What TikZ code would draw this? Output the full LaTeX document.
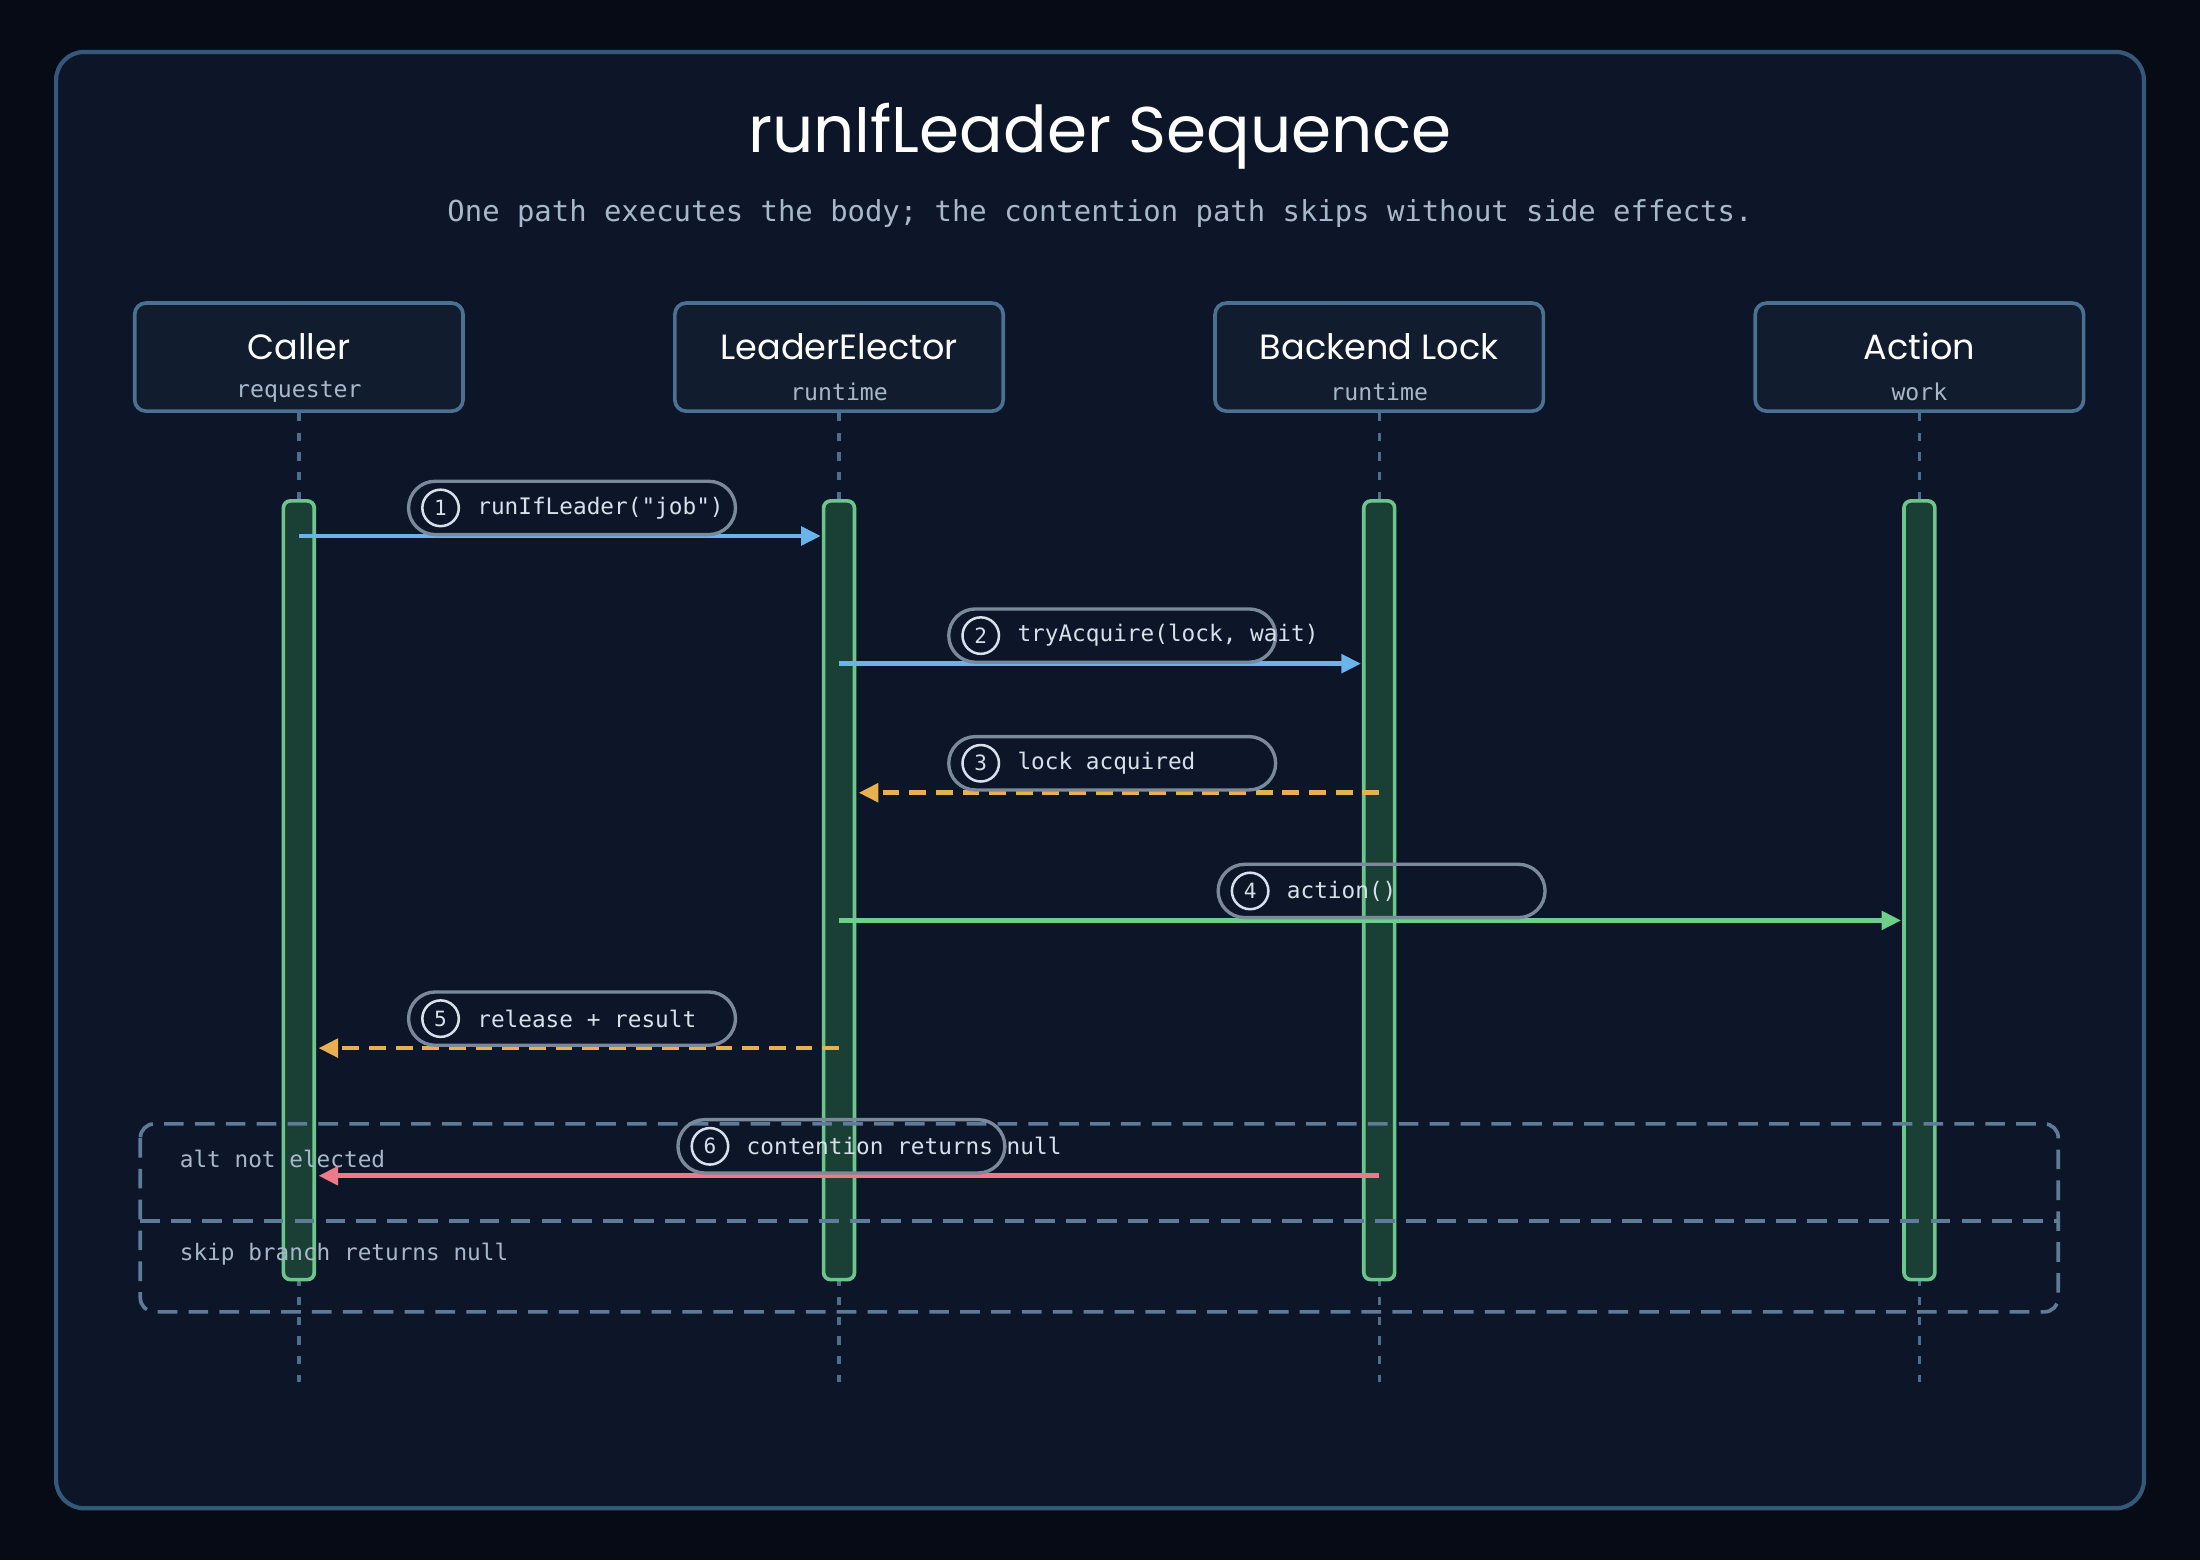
\documentclass[tikz,border=0pt]{standalone}
\usepackage{fontspec}
\setmainfont{Poppins}
\newfontfamily\monof{DejaVu Sans Mono}
\usetikzlibrary{arrows.meta}
\definecolor{bgc}{HTML}{070B16}
\definecolor{panel}{HTML}{0D1528}
\definecolor{panelline}{HTML}{34587A}
\definecolor{boxfill}{HTML}{111C2E}
\definecolor{boxline}{HTML}{4C7092}
\definecolor{lifec}{HTML}{4E6E8E}
\definecolor{barfill}{HTML}{1A3F35}
\definecolor{barline}{HTML}{6CC58A}
\definecolor{bluec}{HTML}{6AB4EC}
\definecolor{orc}{HTML}{E8B050}
\definecolor{grc}{HTML}{6CD08A}
\definecolor{redc}{HTML}{EC7A88}
\definecolor{pillline}{HTML}{7A8A9A}
\definecolor{txtc}{HTML}{D8E0EA}
\definecolor{subc}{HTML}{A8B8CC}
\definecolor{framec}{HTML}{5E7C98}
\tikzset{
 part/.style={draw=boxline,fill=boxfill,line width=2.6pt,rounded corners=8pt,minimum width=234pt,minimum height=77pt},
 life/.style={draw=lifec,line width=2.4pt,dash pattern=on 6pt off 8pt},
 actbar/.style={draw=barline,fill=barfill,line width=2.6pt,rounded corners=5pt},
 msg/.style={line width=3.4pt,-{Triangle[length=14pt,width=13pt]}},
 dmsg/.style={msg,dash pattern=on 12pt off 7pt},
 pill/.style={draw=pillline,line width=2.4pt,rounded corners=19pt,minimum width=233pt,minimum height=38pt},
 numc/.style={circle,draw=txtc,line width=1.8pt,minimum size=26pt,inner sep=0pt,text=txtc,font=\monof\fontsize{15}{15}\selectfont},
 mlab/.style={anchor=west,text=txtc,font=\monof\fontsize{16.2}{16}\selectfont,inner sep=0pt},
}
\begin{document}
\begin{tikzpicture}[x=1pt,y=-1pt]
\fill[bgc] (0,0) rectangle (1568,1112);
\useasboundingbox (0,0) rectangle (1568,1112);
\draw[panelline,fill=panel,line width=3pt,rounded corners=20pt] (40,37) rectangle (1528,1075);
\node[text=white,font=\fontsize{46}{46}\selectfont] (title) at (784,97) {runIfLeader Sequence};
\node[text=subc,font=\monof\fontsize{20.6}{20}\selectfont] (sub) at (784,152) {One path executes the body; the contention path skips without side effects.};
\foreach \n/\x/\a/\b in {c/213/Caller/requester, l/598/LeaderElector/runtime, k/983/Backend Lock/runtime, a/1368/Action/work}{
 \node[part] (p\n) at (\x,254.5) {};
 \node[text=white,font=\fontsize{25}{25}\selectfont] at (\x,247) {\a};
 \node[text=subc,font=\monof\fontsize{16.5}{16}\selectfont] at (\x,279) {\b};
 \coordinate (e\n) at (\x,985);
 \draw[life] (p\n.south) -- (e\n);
 \draw[actbar] (\x-11,357) rectangle (\x+11,912);
 \coordinate (b\n) at (\x,357);
}
% frame
\draw[framec,line width=2.6pt,dash pattern=on 14pt off 8pt,rounded corners=10pt] (100,801) rectangle (1467,935);
\draw[framec,line width=2.6pt,dash pattern=on 14pt off 8pt] (100,870) -- (1467,870);
\node[mlab,text=subc] (alt) at (128,826) {alt not elected};
\node[mlab,text=subc] (skip) at (128,894) {skip branch returns null};
% messages
\coordinate (m1a) at (213,382); \coordinate (m1b) at (585,382);
\coordinate (m2a) at (598,473); \coordinate (m2b) at (970,473);
\coordinate (m3a) at (983,565); \coordinate (m3b) at (612,565);
\coordinate (m4a) at (598,656); \coordinate (m4b) at (1355,656);
\coordinate (m5a) at (598,747); \coordinate (m5b) at (227,747);
\coordinate (m6a) at (983,838); \coordinate (m6b) at (227,838);
\draw[msg,bluec] (m1a) -- (m1b);
\draw[msg,bluec] (m2a) -- (m2b);
\draw[dmsg,orc] (m3a) -- (m3b);
\draw[msg,grc] (m4a) -- (m4b);
\draw[dmsg,orc] (m5a) -- (m5b);
\draw[msg,redc] (m6a) -- (m6b);
\foreach \i/\x/\y/\t in {1/290/362/runIfLeader("job"), 2/675/453/tryAcquire(lock{,} wait), 3/675/544/lock acquired, 4/867/635/action(), 5/290/726/release + result, 6/482/817/contention returns null}{
 \node[pill,anchor=west] (pl\i) at (\x,\y) {};
 \node[numc] (n\i) at (\x+24,\y) {\i};
 \node[mlab] (t\i) at (\x+50,\y) {\t};
}
\end{tikzpicture}
\end{document}
